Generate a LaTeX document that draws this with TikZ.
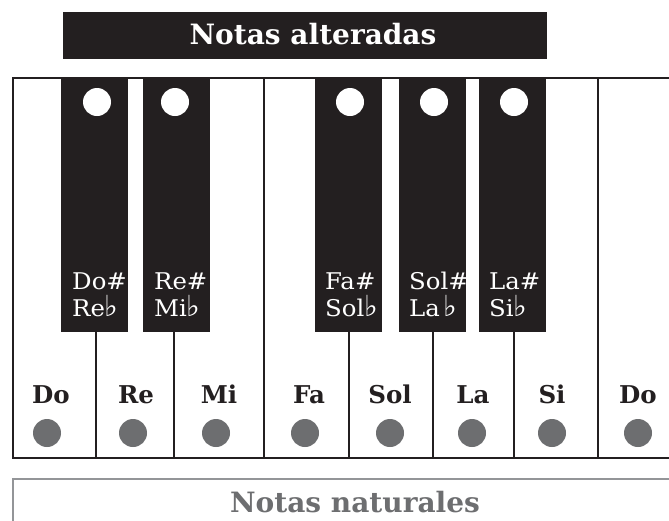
\documentclass[tikz,border=0pt]{standalone}
\usepackage{fontspec}
\setmainfont{DejaVu Serif}
\newfontfamily\keyfont[FakeStretch=1.06]{DejaVu Serif}
\newfontfamily\symfont{DejaVu Sans}
\definecolor{ink}{HTML}{231F20}
\definecolor{dotgray}{HTML}{6D6E70}
\definecolor{framegray}{HTML}{939598}
\tikzset{
  inkline/.style={draw=ink, line width=2.6pt},
  bkey/.style={fill=ink, draw=none, minimum width=67pt, minimum height=254pt, inner sep=0pt},
  hole/.style={circle, fill=white, minimum size=28pt, inner sep=0pt},
  graydot/.style={circle, fill=dotgray, minimum size=28pt, inner sep=0pt},
  bkeytxt/.style={text=white, font=\keyfont\fontsize{23}{23}\selectfont, inner sep=0pt, anchor=base west},
  wlabel/.style={text=ink, font=\bfseries\fontsize{24.5}{24.5}\selectfont, inner sep=0pt, anchor=base},
  titletxt/.style={font=\bfseries\fontsize{28}{28}\selectfont, inner sep=0pt, anchor=base},
}
\newcommand{\fl}{{\symfont\fontsize{29}{29}\selectfont ♭}}
\begin{document}
\begin{tikzpicture}[x=1pt,y=-1pt]
\useasboundingbox (0,0) rectangle (669,520);
\clip (0,0) rectangle (669,520);
% title bar
\node[fill=ink, minimum width=484pt, minimum height=47pt, inner sep=0pt] (bar) at (305,35.5) {};
\node[titletxt, text=white] (bartxt) at (313,44) {Notas alteradas};
% keyboard body
\fill[white] (13,78) rectangle (700,458);
% black keys
\node[bkey] (k1) at (94.5,205) {};
\node[bkey] (k2) at (176,205) {};
\node[bkey] (k3) at (348.5,205) {};
\node[bkey] (k4) at (432.5,205) {};
\node[bkey] (k5) at (512.5,205) {};
% holes
\node[hole] (h1) at (97,102) {};
\node[hole] (h2) at (175,102) {};
\node[hole] (h3) at (350,102) {};
\node[hole] (h4) at (434,102) {};
\node[hole] (h5) at (514,102) {};
% black key labels
\node[bkeytxt] (t1a) at (72,289) {Do\#};
\node[bkeytxt] (t1b) at (72,316) {Re\fl};
\node[bkeytxt] (t2a) at (154,289) {Re\#};
\node[bkeytxt] (t2b) at (154,316) {Mi\fl};
\node[bkeytxt] (t3a) at (325,289) {Fa\#};
\node[bkeytxt] (t3b) at (325,316) {Sol\fl};
\node[bkeytxt] (t4a) at (409,289) {Sol\#};
\node[bkeytxt] (t4b) at (409,316) {La\,\fl};
\node[bkeytxt] (t5a) at (489,289) {La\#};
\node[bkeytxt] (t5b) at (489,316) {Si\fl};
% dividers
\draw[inkline] (96,332) -- (96,458);
\draw[inkline] (174,332) -- (174,458);
\draw[inkline] (264,78) -- (264,458);
\draw[inkline] (349,332) -- (349,458);
\draw[inkline] (433,332) -- (433,458);
\draw[inkline] (514,332) -- (514,458);
\draw[inkline] (598,78) -- (598,458);
% outer frame
\draw[inkline] (13,78) rectangle (700,458);
% white key labels
\node[wlabel] (w1) at (51,403) {Do};
\node[wlabel] (w2) at (136,403) {Re};
\node[wlabel] (w3) at (219,403) {Mi};
\node[wlabel] (w4) at (309,403) {Fa};
\node[wlabel] (w5) at (390,403) {Sol};
\node[wlabel] (w6) at (473,403) {La};
\node[wlabel] (w7) at (552,403) {Si};
\node[wlabel] (w8) at (638,403) {Do};
% gray dots
\node[graydot] (d1) at (47,433) {};
\node[graydot] (d2) at (133,433) {};
\node[graydot] (d3) at (216,433) {};
\node[graydot] (d4) at (305,433) {};
\node[graydot] (d5) at (390,433) {};
\node[graydot] (d6) at (472,433) {};
\node[graydot] (d7) at (552,433) {};
\node[graydot] (d8) at (638,433) {};
% bottom box
\draw[draw=framegray, line width=2.2pt] (13,479) rectangle (700,560);
\node[titletxt, text=dotgray] (nat) at (355,512) {Notas naturales};
\end{tikzpicture}
\end{document}
